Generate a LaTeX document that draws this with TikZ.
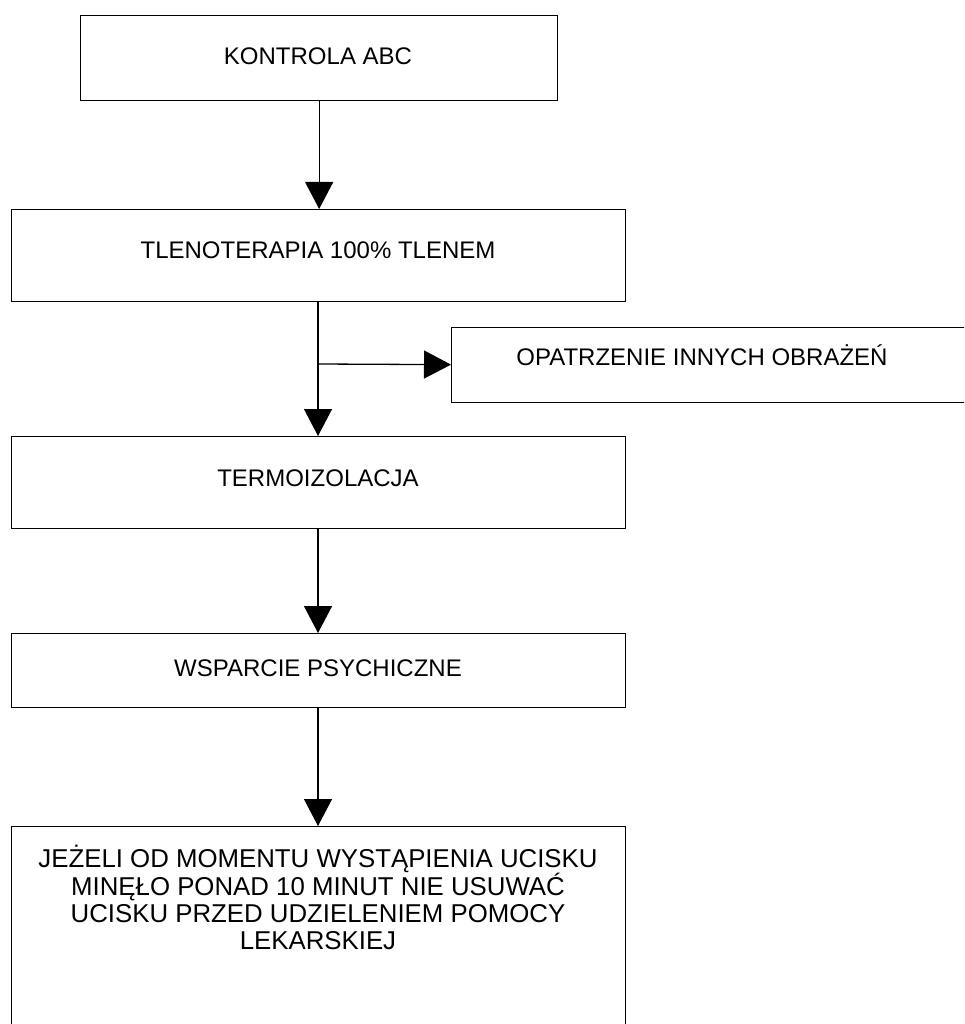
\documentclass[tikz,border=0pt]{standalone}
\usepackage{fontspec}
\setmainfont{Liberation Sans}
\usetikzlibrary{arrows.meta}
\begin{document}
\begin{tikzpicture}[x=1pt,y=-1pt,
  box/.style={draw=black,line width=1.3pt,rectangle,inner sep=0pt,anchor=north west},
  lbl/.style={font=\fontsize{24}{27.6}\selectfont,align=center,inner sep=0pt},
  biglbl/.style={font=\fontsize{25.8}{26.7}\selectfont,align=center,inner sep=0pt},
  conn/.style={line width=1.3pt,-{Triangle[length=27pt,width=28pt]}}]
\useasboundingbox (0,0) rectangle (964,1024);
\begin{scope}
\clip (0,0) rectangle (964,1024);
\node[box,minimum width=477pt,minimum height=85pt] (b1) at (80,15) {};
\node[box,minimum width=614pt,minimum height=92pt] (b2) at (11,209) {};
\node[box,minimum width=530pt,minimum height=75pt] (b4) at (451,326.5) {};
\node[box,minimum width=614pt,minimum height=92pt] (b3) at (11,436) {};
\node[box,minimum width=614pt,minimum height=74pt] (b5) at (11,633) {};
\node[box,minimum width=614pt,minimum height=210pt] (b6) at (11,826) {};
\end{scope}
\node[lbl] (t1) at (318,56) {KONTROLA ABC};
\node[lbl] (t2) at (318,250) {TLENOTERAPIA 100\% TLENEM};
\node[lbl] (t4) at (702,355) {OPATRZENIE INNYCH OBRAŻEŃ};
\node[lbl] (t3) at (318,478) {TERMOIZOLACJA};
\node[lbl] (t5) at (318,668) {WSPARCIE PSYCHICZNE};
\node[biglbl] (t6) at (318,897) {JEŻELI OD MOMENTU WYSTĄPIENIA UCISKU\\MINĘŁO PONAD 10 MINUT NIE USUWAĆ\\UCISKU PRZED UDZIELENIEM POMOCY\\LEKARSKIEJ};
\coordinate (j) at (318,364);
\draw[conn] (b1.south) -- (b2.north -| b1.south);
\draw[conn] (318,301) -- (318,436);
\draw[conn] (j) -- (b4.west);
\draw[conn] (318,528) -- (318,633);
\draw[conn] (318,707) -- (318,826);
\end{tikzpicture}
\end{document}
